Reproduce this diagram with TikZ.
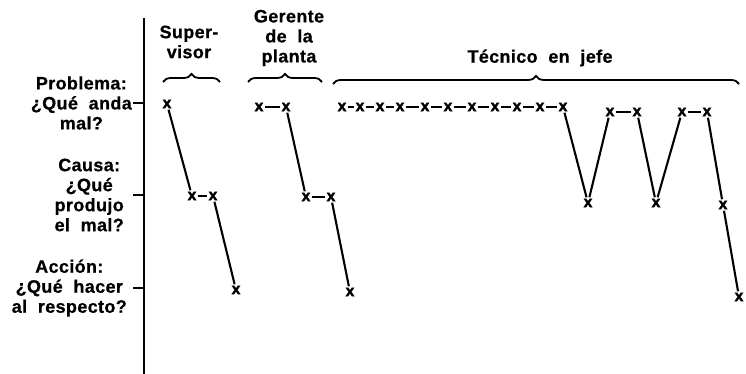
\documentclass[tikz,border=0pt]{standalone}
\usepackage{fontspec}
\setmainfont{Liberation Sans}[WordSpace=2]
\newfontfamily\lblfont{Liberation Sans}[WordSpace=2, LetterSpace=2, BoldFeatures={FakeBold=0.6}]
\newfontfamily\mkfont{Liberation Sans}[BoldFeatures={FakeBold=2}]
\usetikzlibrary{decorations.pathreplacing}
\begin{document}
\begin{tikzpicture}[x=1pt,y=-1pt,
  mk/.style={font=\mkfont\fontsize{16}{16}\selectfont\bfseries, inner sep=1.3pt},
  lbl/.style={font=\lblfont\fontsize{18}{20}\selectfont\bfseries, align=center, inner sep=0pt},
  conn/.style={line width=2.1pt},
  axisline/.style={line width=2.8pt},
  tickline/.style={line width=2pt},
  brc/.style={decorate, decoration={brace, amplitude=8pt, aspect=0.5}, line width=1.8pt},
]
\useasboundingbox (0,0) rectangle (746,374);
\clip (0,0) rectangle (746,374);

% axis and ticks
\coordinate (atop) at (144,18);
\coordinate (abot) at (144,378);
\draw[axisline] (atop) -- (abot);
\coordinate (tpL) at (133,103); \coordinate (tpR) at (144,103);
\coordinate (tcL) at (133,195); \coordinate (tcR) at (144,195);
\coordinate (taL) at (133,288); \coordinate (taR) at (144,288);
\draw[tickline] (tpL) -- (tpR);
\draw[tickline] (tcL) -- (tcR);
\draw[tickline] (taL) -- (taR);

% row labels
\node[lbl, anchor=east] (lp) at (132,103) {Problema:\\¿Qué anda\\mal?};
\node[lbl, anchor=east] (lc) at (124,195) {Causa:\\¿Qué\\produjo\\el mal?};
\node[lbl, anchor=east] (la) at (127,288) {Acción:\\¿Qué hacer\\al respecto?};

% column labels
\node[lbl] (hs) at (189,42) {Super-\\visor};
\node[lbl] (hg) at (289,38) {Gerente\\de la\\planta};
\node[lbl] (ht) at (540,58) {Técnico en jefe};

% braces
\coordinate (bs1) at (163,82); \coordinate (bs2) at (220,82);
\coordinate (bg1) at (248,82); \coordinate (bg2) at (322,82);
\coordinate (bt1) at (333,84); \coordinate (bt2) at (739,84);
\draw[brc] (bs1) -- (bs2);
\draw[brc] (bg1) -- (bg2);
\draw[brc] (bt1) -- (bt2);

% Supervisor
\node[mk] (s1) at (167,104) {x};
\node[mk] (s2) at (192,196) {x};
\node[mk] (s3) at (213,196) {x};
\node[mk] (s4) at (236,290) {x};
\draw[conn] (s1) -- (s2);
\draw[conn] (s2) -- (s3);
\draw[conn] (s3) -- (s4);

% Gerente de la planta
\node[mk] (g1) at (259,107) {x};
\node[mk] (g2) at (286,107) {x};
\node[mk] (g3) at (306,197) {x};
\node[mk] (g4) at (331,197) {x};
\node[mk] (g5) at (350,292) {x};
\draw[conn] (g1) -- (g2);
\draw[conn] (g2) -- (g3);
\draw[conn] (g3) -- (g4);
\draw[conn] (g4) -- (g5);

% Tecnico en jefe
\foreach \i/\xx in {1/342,2/360,3/380,4/400,5/425,6/448,7/472,8/495,9/517,10/540,11/563}
  \node[mk] (t\i) at (\xx,107) {x};
\node[mk] (t12) at (588,203) {x};
\node[mk] (t13) at (610,112) {x};
\node[mk] (t14) at (637,112) {x};
\node[mk] (t15) at (656,203) {x};
\node[mk] (t16) at (682,112) {x};
\node[mk] (t17) at (707,112) {x};
\node[mk] (t18) at (723,205) {x};
\node[mk] (t19) at (739,297) {x};
\foreach \a/\b in {1/2,2/3,3/4,4/5,5/6,6/7,7/8,8/9,9/10,10/11,11/12,12/13,13/14,14/15,15/16,16/17,17/18,18/19}
  \draw[conn] (t\a) -- (t\b);
\end{tikzpicture}
\end{document}
